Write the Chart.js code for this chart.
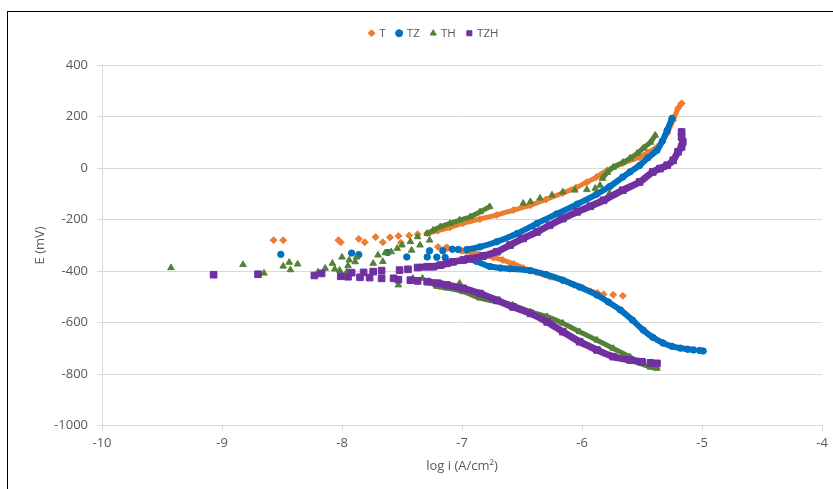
<!DOCTYPE html>
<html>
<head>
<meta charset="utf-8">
<title>Tafel plot</title>
<script src="https://cdn.jsdelivr.net/npm/chart.js@4.4.1/dist/chart.umd.min.js"></script>
<style>
  html, body { margin: 0; padding: 0; background: #fff; overflow: hidden; }
  #wrap { position: relative; width: 833px; height: 489px; }
  #frame {
    position: absolute; left: 7px; top: 11px; width: 1000px; height: 600px;
    border-left: 1px solid #000; border-top: 1px solid #000; pointer-events: none;
  }
  canvas { position: absolute; left: 0; top: 0; }
</style>
</head>
<body>
<div id="wrap">
  <canvas id="tafel" width="833" height="489"></canvas>
  <div id="frame"></div>
</div>
<script>
// axis ticks
const xTicks = [-10, -9, -8, -7, -6, -5, -4];
const yTicks = [-1000, -800, -600, -400, -200, 0, 200, 400];

// [log i, E] pairs
// T
const tScatter = [[-8.57, -280], [-8.49, -280], [-8.03, -280], [-8.01, -288], [-7.86, -275], [-7.81, -288],
  [-7.72, -268], [-7.66, -288], [-7.6, -269], [-7.53, -264], [-7.51, -290], [-7.44, -262], [-7.37, -257],
  [-7.2, -306], [-7.13, -308], [-5.82, -490], [-5.74, -492], [-5.66, -496]];
const tAnodic = [[-7.29, -253], [-7.2, -243], [-7.1, -230], [-6.99, -214], [-6.85, -198], [-6.71, -182],
  [-6.57, -163], [-6.43, -144], [-6.3, -122], [-6.16, -97], [-6.05, -76], [-5.96, -55], [-5.88, -35],
  [-5.79, -9], [-5.66, 19], [-5.52, 42], [-5.45, 60], [-5.375, 81], [-5.33, 105], [-5.29, 135],
  [-5.24, 186], [-5.2, 232], [-5.17, 251]];
const tCathodic = [[-7.12, -310], [-7.0, -322], [-6.9, -330], [-6.82, -338], [-6.74, -347], [-6.66, -357],
  [-6.57, -372], [-6.49, -388], [-6.38, -405], [-6.27, -422], [-6.16, -437], [-6.07, -453], [-5.99, -465],
  [-5.93, -478], [-5.87, -485]];

// TZ
const tzScatter = [[-8.51, -335], [-7.92, -330], [-7.86, -336], [-7.62, -328], [-7.46, -345], [-7.29, -345],
  [-7.27, -321], [-7.21, -346], [-7.16, -321], [-7.14, -347], [-7.08, -315], [-7.03, -316],
  [-5.02, -708], [-4.99, -710]];
const tzAnodic = [[-6.96, -316], [-6.85, -306], [-6.71, -286], [-6.54, -254], [-6.375, -215], [-6.21, -178],
  [-6.04, -140], [-5.88, -102], [-5.77, -72], [-5.66, -35], [-5.6, -15], [-5.52, 10], [-5.45, 40],
  [-5.375, 69], [-5.33, 105], [-5.29, 147], [-5.25, 193]];
const tzCathodic = [[-6.96, -350], [-6.88, -362], [-6.77, -382], [-6.68, -388], [-6.6, -391], [-6.43, -398],
  [-6.3, -413], [-6.16, -435], [-6.02, -462], [-5.875, -493], [-5.78, -520], [-5.68, -551], [-5.58, -590],
  [-5.49, -629], [-5.41, -657], [-5.325, -679], [-5.25, -692], [-5.18, -699], [-5.12, -703], [-5.07, -706]];

// TH
const thScatter = [[-9.425, -387], [-8.825, -375], [-8.65, -408], [-8.49, -381], [-8.44, -366], [-8.43, -395],
  [-8.37, -373], [-8.2, -404], [-8.14, -389], [-8.08, -370], [-8.06, -392], [-8.02, -397], [-8.0, -346],
  [-7.96, -403], [-7.95, -379], [-7.94, -357], [-7.89, -364], [-7.88, -346], [-7.74, -370], [-7.7, -338],
  [-7.66, -363], [-7.64, -329], [-7.59, -325], [-7.54, -312], [-7.5, -299], [-7.43, -286], [-7.42, -319],
  [-7.37, -267], [-7.35, -299], [-7.27, -280],
  [-6.49, -137], [-6.43, -131], [-6.35, -117], [-6.25, -105], [-6.16, -93], [-6.06, -86], [-5.96, -84],
  [-5.89, -79], [-5.85, -67], [-5.77, -98],
  [-7.53, -454], [-7.41, -428], [-7.33, -428], [-7.02, -447]];
const thAnodicLow = [[-7.29, -254], [-7.24, -241], [-7.18, -228], [-7.1, -215], [-7.02, -202], [-6.93, -189],
  [-6.85, -170], [-6.77, -150]];
const thAnodicHigh = [[-5.83, -40], [-5.79, -17], [-5.74, 3], [-5.66, 22], [-5.6, 38], [-5.54, 57],
  [-5.49, 77], [-5.43, 100], [-5.39, 127]];
const thCathodic = [[-7.27, -441], [-7.21, -459], [-7.125, -466], [-6.99, -480], [-6.85, -505], [-6.71, -519],
  [-6.575, -532], [-6.43, -558], [-6.29, -577], [-6.16, -602], [-6.02, -635], [-5.875, -668], [-5.74, -700],
  [-5.6, -733], [-5.52, -757], [-5.43, -773], [-5.375, -777]];

// TZH
const tzhScatter = [[-9.07, -414], [-8.7, -412], [-8.23, -417], [-8.17, -409], [-8.01, -420], [-7.95, -422],
  [-7.92, -406], [-7.85, -424], [-7.82, -405], [-7.77, -425], [-7.74, -402], [-7.67, -398], [-7.67, -428],
  [-7.57, -428], [-7.53, -433], [-7.52, -396], [-7.45, -393], [-7.43, -435], [-7.37, -438],
  [-5.43, -756], [-5.375, -758]];
const tzhAnodic = [[-7.37, -386], [-7.29, -383], [-7.24, -383], [-7.18, -377], [-7.125, -370], [-7.075, -364],
  [-6.99, -357], [-6.91, -351], [-6.825, -342], [-6.71, -325], [-6.6, -299], [-6.49, -273], [-6.375, -248],
  [-6.27, -222], [-6.16, -196], [-6.04, -170], [-5.93, -148], [-5.82, -125], [-5.66, -86], [-5.52, -54],
  [-5.41, -15], [-5.35, -2], [-5.29, 11], [-5.24, 30], [-5.2, 63], [-5.17, 82], [-5.16, 102],
  [-5.17, 121], [-5.17, 140]];
const tzhCathodic = [[-7.29, -441], [-7.2, -447], [-7.125, -454], [-6.99, -467], [-6.85, -487], [-6.71, -513],
  [-6.575, -539], [-6.43, -564], [-6.29, -597], [-6.16, -635], [-6.02, -674], [-5.875, -706], [-5.74, -732],
  [-5.6, -745], [-5.5, -752]];

const toXY = pts => pts.map(p => ({ x: p[0], y: p[1] }));

// one marker set per sample + thick traces for the dense branches
function sample(label, color, style, radius, width, order, scatter, branches) {
  const sets = [{
    label: label,
    data: toXY(scatter.concat(...branches)),
    showLine: false,
    pointStyle: style,
    pointRadius: radius,
    pointHoverRadius: radius,
    pointBorderWidth: 1,
    backgroundColor: color,
    borderColor: color,
    order: order
  }];
  branches.forEach(b => sets.push({
    label: label,
    isTrace: true,
    data: toXY(b),
    showLine: true,
    pointRadius: 0,
    borderWidth: width,
    borderColor: color,
    borderCapStyle: 'round',
    borderJoinStyle: 'round',
    tension: 0.3,
    order: order
  }));
  return sets;
}

const datasets = [].concat(
  sample('T', '#ED7D31', 'rectRot', 3.5, 5, 4, tScatter, [tAnodic, tCathodic]),
  sample('TZ', '#0070C0', 'circle', 3.2, 6, 3, tzScatter, [tzAnodic, tzCathodic]),
  sample('TH', '#548235', 'triangle', 3.8, 5, 2, thScatter, [thAnodicLow, thAnodicHigh, thCathodic]),
  sample('TZH', '#7030A0', 'rect', 4.7, 7, 1, tzhScatter, [tzhAnodic, tzhCathodic])
);

// extra room under the legend, and nudge it right over the plot
const legendSpacing = {
  id: 'legendSpacing',
  beforeInit(chart) {
    const origFit = chart.legend.fit;
    chart.legend.fit = function fit() {
      origFit.bind(chart.legend)();
      this.height += 16;
    };
  },
  afterLayout(chart) {
    chart.legend.left += 46;
  }
};

Chart.defaults.font.family = "'Open Sans', sans-serif";
Chart.defaults.color = '#595959';

new Chart(document.getElementById('tafel'), {
  type: 'scatter',
  data: { datasets: datasets },
  plugins: [legendSpacing],
  options: {
    responsive: false,
    animation: false,
    layout: { padding: { top: 16, right: 11, bottom: 0, left: 0 } },
    plugins: {
      tooltip: { enabled: false },
      legend: {
        position: 'top',
        labels: {
          usePointStyle: true,
          boxWidth: 4,
          boxHeight: 5,
          padding: 11.5,
          font: { size: 11.5 },
          filter: (item, data) => !data.datasets[item.datasetIndex].isTrace,
          sort: (a, b) => a.datasetIndex - b.datasetIndex
        }
      }
    },
    scales: {
      x: {
        type: 'linear',
        min: -10,
        max: -4,
        afterBuildTicks: s => { s.ticks = xTicks.map(v => ({ value: v })); },
        afterFit: s => { s.height = 63.3; },
        border: { color: '#d9d9d9', width: 1 },
        grid: { drawOnChartArea: false, drawTicks: true, tickLength: 5, color: '#d9d9d9' },
        ticks: { padding: 5, font: { size: 13 }, maxRotation: 0, callback: v => String(v) },
        title: { display: true, text: 'log i (A/cm²)', font: { size: 13 }, padding: { top: 0, bottom: 15 } }
      },
      y: {
        type: 'linear',
        min: -1000,
        max: 400,
        afterBuildTicks: s => { s.ticks = yTicks.map(v => ({ value: v })); },
        afterFit: s => { s.width = 102; },
        border: { color: '#d9d9d9', width: 1 },
        grid: { color: '#d9d9d9', tickLength: 5 },
        ticks: { padding: 9, font: { size: 13 }, callback: v => String(v) },
        title: { display: true, text: 'E (mV)', font: { size: 13 }, padding: { top: 32, bottom: 0 } }
      }
    }
  }
});
</script>
</body>
</html>
